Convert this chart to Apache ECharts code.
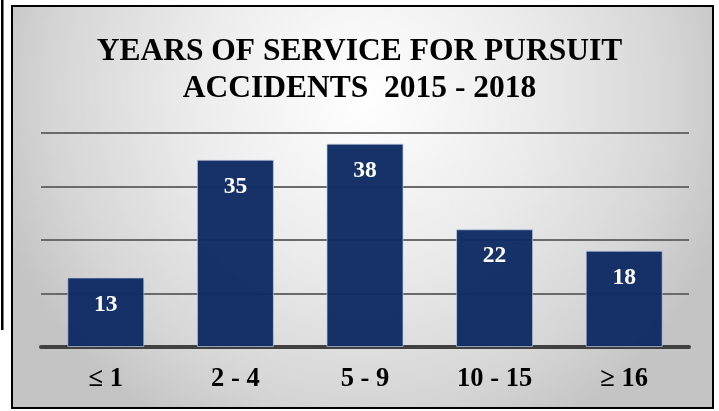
<!DOCTYPE html>
<html><head><meta charset="utf-8">
<script src="https://cdn.jsdelivr.net/npm/echarts@6/dist/echarts.min.js"></script>
<style>html,body{margin:0;padding:0;background:#fff}#c{width:719px;height:411px}</style>
</head><body><div id="c"></div>
<script>
var categories = ['≤ 1', '2 - 4', '5 - 9', '10 - 15', '≥ 16'];
var values = [13, 35, 38, 22, 18];
var titleLines = ['YEARS OF SERVICE FOR PURSUIT', 'ACCIDENTS  2015 - 2018'];

var chart = echarts.init(document.getElementById('c'));
var serif = '"Liberation Serif","Times New Roman",serif';
chart.setOption({
  animation: false,
  backgroundColor: '#ffffff',
  graphic: [
    {type: 'rect', z: -10, shape: {x: 12, y: 6, width: 701, height: 402},
     style: {fill: {type: 'radial', x: 0.5, y: 0.22, r: 0.95,
       colorStops: [{offset: 0, color: '#ffffff'}, {offset: 0.45, color: '#ebebeb'}, {offset: 0.8, color: '#d6d6d6'}, {offset: 1, color: '#c4c4c4'}]},
       stroke: '#000', lineWidth: 2}},
    {type: 'rect', z: -10, shape: {x: 1, y: 0, width: 2.5, height: 330}, style: {fill: '#000'}}
  ],
  title: {
    text: titleLines.join('\n'), left: 'center', top: 28,
    textStyle: {fontFamily: serif, fontWeight: 'bold', fontSize: 31.5, lineHeight: 37, color: '#000'}
  },
  grid: {left: 41, right: 30, top: 133, bottom: 64},
  xAxis: {
    type: 'category', data: categories,
    axisLine: {lineStyle: {color: '#404040', width: 4}},
    axisTick: {show: false},
    axisLabel: {fontFamily: serif, fontWeight: 'bold', fontSize: 26.5, color: '#000', margin: 19}
  },
  yAxis: {
    type: 'value', min: 0, max: 40, interval: 10,
    axisLabel: {show: false}, axisLine: {show: false}, axisTick: {show: false},
    splitLine: {lineStyle: {color: '#6a6a6a', width: 2}}
  },
  series: [{
    type: 'bar', data: values, barWidth: 77,
    itemStyle: {color: 'rgba(15,42,100,0.97)', borderColor: 'rgba(190,205,230,0.7)', borderWidth: 1},
    label: {show: true, position: 'insideTop', distance: 15, fontFamily: serif, fontWeight: 'bold', fontSize: 23.5, color: '#fff'}
  }]
});
</script></body></html>
